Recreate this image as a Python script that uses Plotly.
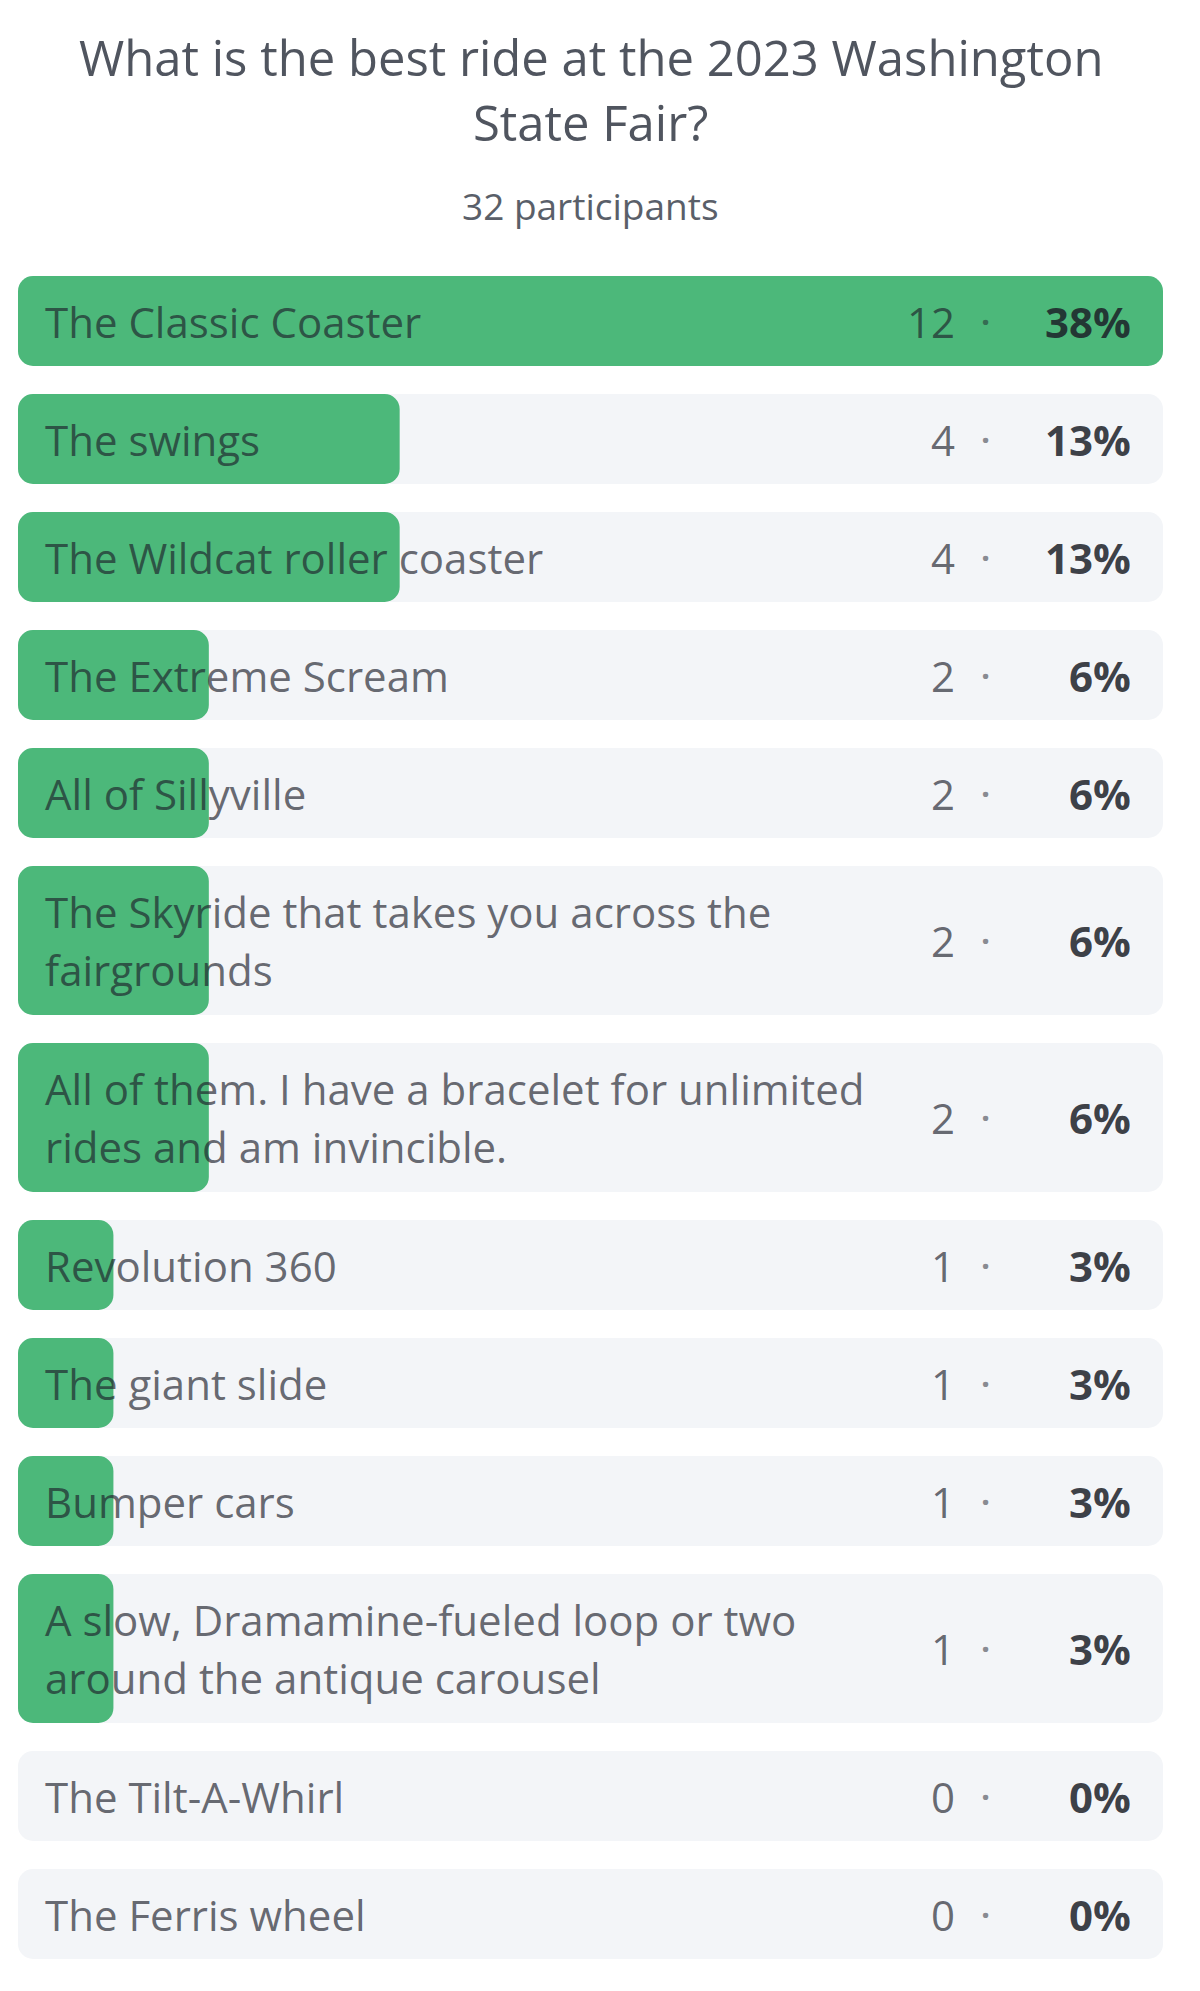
import plotly.graph_objects as go

# ---------------- data ----------------
title_lines = ["What is the best ride at the 2023 Washington", "State Fair?"]
subtitle = "32 participants"
labels = [
    "The Classic Coaster",
    "The swings",
    "The Wildcat roller coaster",
    "The Extreme Scream",
    "All of Sillyville",
    "The Skyride that takes you across the<br>fairgrounds",
    "All of them. I have a bracelet for unlimited<br>rides and am invincible.",
    "Revolution 360",
    "The giant slide",
    "Bumper cars",
    "A slow, Dramamine-fueled loop or two<br>around the antique carousel",
    "The Tilt-A-Whirl",
    "The Ferris wheel",
]
counts = [12, 4, 4, 2, 2, 2, 2, 1, 1, 1, 1, 0, 0]
pcts = ["38%", "13%", "13%", "6%", "6%", "6%", "6%", "3%", "3%", "3%", "3%", "0%", "0%"]

# ---------------- style / layout constants ----------------
PAGE_OFF = 8                 # default body margin of the page
W, H = 1200 - 2 * PAGE_OFF, 1991 - 2 * PAGE_OFF
LEFT, RIGHT = 18, 1163       # page pixel extents of the rows
TOP0 = 276
ROW_H1, ROW_H2, GAP = 90, 149, 28
LINE_SP = 58
FONT = "Open Sans"
GREEN = "#4cb87a"
ROW_BG = "#f3f5f8"
TXT = "rgba(30,34,44,0.68)"
PCT_TXT = "rgba(28,32,40,0.86)"
RADIUS = 15
CENTER_X = ((LEFT + RIGHT) / 2 - PAGE_OFF) / W

# row geometry (page-pixel units on the y axis)
centers, heights = [], []
y = TOP0
for lab in labels:
    h = ROW_H2 if "<br>" in lab else ROW_H1
    centers.append(y + h / 2)
    heights.append(h)
    y += h + GAP

vmax = max(counts)

fig = go.Figure()
for vals, color in (([vmax] * len(counts), ROW_BG), (counts, GREEN)):
    fig.add_trace(go.Bar(
        orientation="h",
        y=centers,
        x=vals,
        base=[0] * len(vals),
        width=heights,
        marker=dict(color=color, line=dict(width=0), cornerradius=RADIUS),
        hoverinfo="skip",
        showlegend=False,
    ))

ann = []
title_y = [57, 122]
for t, ty in zip(title_lines, title_y):
    ann.append(dict(x=CENTER_X, xref="paper", y=ty, yref="y", text=t, showarrow=False,
                    xanchor="center", yanchor="middle",
                    font=dict(family=FONT, size=49, color="#50555f")))
ann.append(dict(x=CENTER_X, xref="paper", y=205, yref="y", text=subtitle, showarrow=False,
                xanchor="center", yanchor="middle",
                font=dict(family=FONT, size=37, color="#5a5f69")))

for lab, c, n, p in zip(labels, centers, counts, pcts):
    lines = lab.split("<br>")
    k = len(lines)
    for i, ln in enumerate(lines):
        ly = c + (i - (k - 1) / 2) * LINE_SP
        ann.append(dict(x=0, xref="x", y=ly, yref="y", text=ln, showarrow=False,
                        xanchor="left", yanchor="middle", xshift=25,
                        font=dict(family=FONT, size=42, color=TXT)))
    ann.append(dict(x=vmax, xref="x", y=c, yref="y", text=str(n), showarrow=False,
                    xanchor="right", yanchor="middle", xshift=-206,
                    font=dict(family=FONT, size=42, color=TXT)))
    ann.append(dict(x=vmax, xref="x", y=c, yref="y", text="<b>·</b>", showarrow=False,
                    xanchor="center", yanchor="middle", xshift=-178,
                    font=dict(family=FONT, size=32, color="rgba(30,34,44,0.5)")))
    ann.append(dict(x=vmax, xref="x", y=c, yref="y", text="<b>%s</b>" % p, showarrow=False,
                    xanchor="right", yanchor="middle", xshift=-30,
                    font=dict(family=FONT, size=42, color=PCT_TXT)))

fig.update_layout(
    width=W, height=H,
    margin=dict(l=0, r=0, t=0, b=0),
    paper_bgcolor="white", plot_bgcolor="white",
    barmode="overlay",
    xaxis=dict(range=[0, vmax], domain=[(LEFT - PAGE_OFF) / W, (RIGHT - PAGE_OFF) / W],
               visible=False, fixedrange=True),
    yaxis=dict(range=[H + PAGE_OFF, PAGE_OFF], visible=False, fixedrange=True),
    annotations=ann,
)

fig.write_html("out.html")
